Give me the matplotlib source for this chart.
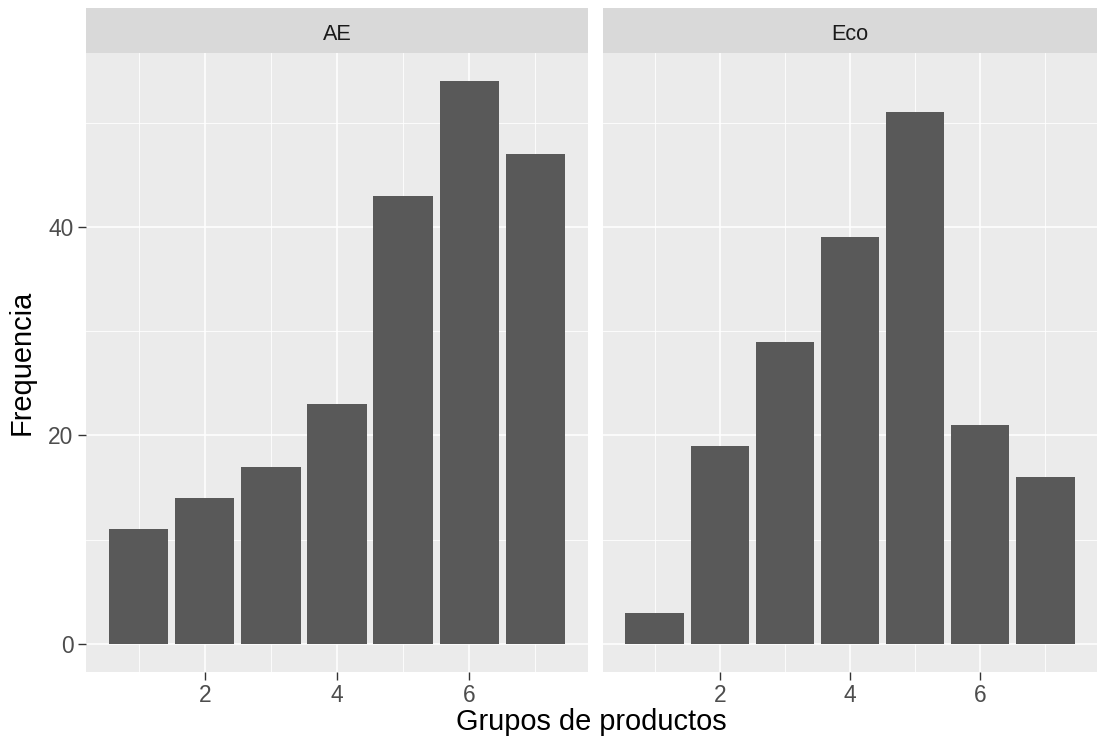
import matplotlib
matplotlib.use("Agg")
import matplotlib.pyplot as plt
from matplotlib.ticker import FixedLocator

plt.rcParams['font.family'] = ['Liberation Sans', 'DejaVu Sans']

groups = [1, 2, 3, 4, 5, 6, 7]
facets = ["AE", "Eco"]
ae_counts = [11, 14, 17, 23, 43, 54, 47]
eco_counts = [3, 19, 29, 39, 51, 21, 16]
series = {"AE": ae_counts, "Eco": eco_counts}
x_major = [2, 4, 6]
x_minor = [1, 3, 5, 7]
y_major = [0, 20, 40]
y_minor = [10, 30, 50]
x_title = "Grupos de productos"
y_title = "Frequencia"

W, H = 1100, 753
fig = plt.figure(figsize=(W / 100, H / 100), dpi=100)

panel_bottom = 1 - 672 / H
panel_top = 1 - 53 / H
strip_top = 1 - 8 / H
lefts = [86 / W, 603 / W]
rights = [588 / W, 1097 / W]

tick_fs = 16.4
title_fs = 20.9

ymax = max(max(ae_counts), max(eco_counts))
ylim = (-0.05 * ymax, ymax * 1.05)
xlim = (0.55 - 0.05 * 6.9, 7.45 + 0.05 * 6.9)

for i, name in enumerate(facets):
    ax = fig.add_axes([lefts[i], panel_bottom, rights[i] - lefts[i], panel_top - panel_bottom])
    ax.set_facecolor('#EBEBEB')
    ax.set_axisbelow(True)
    ax.bar(groups, series[name], width=0.9, color='#595959', edgecolor='none', zorder=3)
    ax.set_xlim(*xlim)
    ax.set_ylim(*ylim)
    ax.xaxis.set_major_locator(FixedLocator(x_major))
    ax.xaxis.set_minor_locator(FixedLocator(x_minor))
    ax.yaxis.set_major_locator(FixedLocator(y_major))
    ax.yaxis.set_minor_locator(FixedLocator(y_minor))
    ax.grid(which='major', color='white', linewidth=1.15)
    ax.grid(which='minor', color='white', linewidth=0.6)
    for s in ax.spines.values():
        s.set_visible(False)
    ax.tick_params(axis='both', which='major', length=5.5, width=1.0, color='#333333',
                   labelsize=tick_fs, labelcolor='#4D4D4D', pad=3.5)
    ax.tick_params(axis='both', which='minor', length=0)
    if i == 1:
        ax.tick_params(axis='y', which='major', left=False, labelleft=False)
    # strip
    sax = fig.add_axes([lefts[i], panel_top, rights[i] - lefts[i], strip_top - panel_top])
    sax.set_facecolor('#D9D9D9')
    sax.set_xticks([])
    sax.set_yticks([])
    for s in sax.spines.values():
        s.set_visible(False)
    sax.text(0.5, 0.42, name, ha='center', va='center', fontsize=tick_fs * 0.95,
             color='#1A1A1A', transform=sax.transAxes)

fig.text((lefts[0] + rights[1]) / 2, 1 - 722 / H, x_title, ha='center', va='center',
         fontsize=title_fs, color='black')
fig.text(22 / W, (panel_bottom + panel_top) / 2, y_title, ha='center', va='center',
         rotation=90, fontsize=title_fs, color='black')

fig.savefig("out.png", dpi=100, facecolor='white')
